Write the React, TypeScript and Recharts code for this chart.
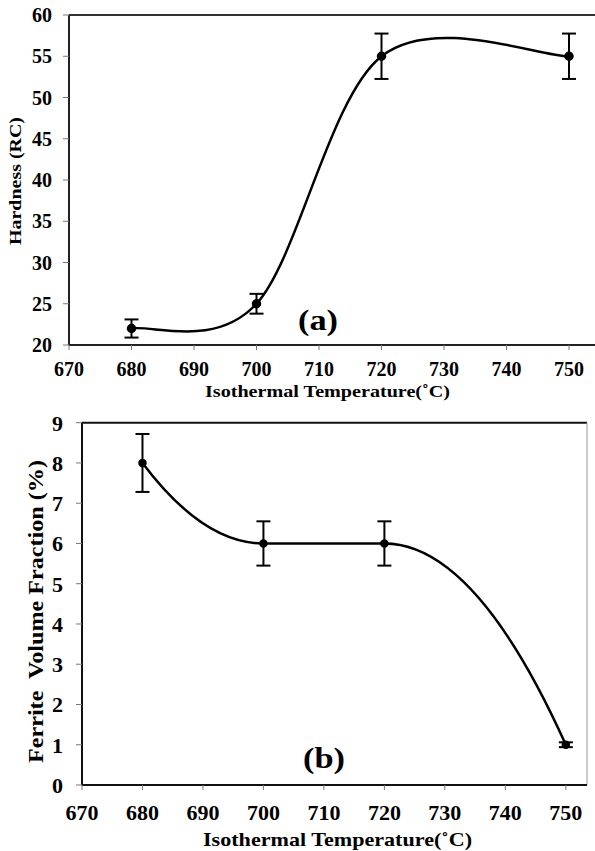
import { LineChart, Line, XAxis, YAxis, ErrorBar, ReferenceLine, Label } from 'recharts';

const TEMPS = [680, 700, 720, 750];
const HARDNESS = [22, 25, 55, 55];
const HARDNESS_ERR = [1.1, 1.2, 2.75, 2.75];
const FERRITE = [8, 6, 6, 1];
const FERRITE_ERR = [0.72, 0.55, 0.55, 0.06];
const TEMP_ERR = [1, 1, 1, 1];

const TEMP_TICKS = [670, 680, 690, 700, 710, 720, 730, 740, 750];
const HARDNESS_TICKS = [20, 25, 30, 35, 40, 45, 50, 55, 60];
const FERRITE_TICKS = [0, 1, 2, 3, 4, 5, 6, 7, 8, 9];

const hardnessData = TEMPS.map((t, i) => ({ temp: t, hardness: HARDNESS[i], err: HARDNESS_ERR[i] }));
const ferriteData = TEMPS.map((t, i) => ({
  temp: t,
  ferrite: FERRITE[i],
  err: FERRITE_ERR[i],
  tErr: TEMP_ERR[i],
}));

const FONT = '"Liberation Serif", "Times New Roman", serif';

// collects the points, then draws them with the given path builder
function makeCurve(draw: (ctx: any, pts: number[][]) => void) {
  return (context: any) => {
    let pts: number[][] = [];
    return {
      areaStart() {},
      areaEnd() {},
      lineStart() {
        pts = [];
      },
      point(x: number, y: number) {
        pts.push([+x, +y]);
      },
      lineEnd() {
        if (pts.length) draw(context, pts);
      },
    };
  };
}

// spreadsheet-style smoothed line: bezier segments with catmull-rom tangents
const smoothCurve = makeCurve((ctx, pts) => {
  const n = pts.length;
  ctx.moveTo(pts[0][0], pts[0][1]);
  for (let i = 0; i < n - 1; i++) {
    const p0 = pts[Math.max(i - 1, 0)];
    const p1 = pts[i];
    const p2 = pts[i + 1];
    const p3 = pts[Math.min(i + 2, n - 1)];
    ctx.bezierCurveTo(
      p1[0] + (p2[0] - p0[0]) / 6,
      p1[1] + (p2[1] - p0[1]) / 6,
      p2[0] - (p3[0] - p1[0]) / 6,
      p2[1] - (p3[1] - p1[1]) / 6,
      p2[0],
      p2[1]
    );
  }
});

// hermite curve that goes flat wherever the data levels off
const flatCurve = makeCurve((ctx, pts) => {
  const n = pts.length;
  const s: number[] = [];
  for (let i = 0; i < n - 1; i++) s.push((pts[i + 1][1] - pts[i][1]) / (pts[i + 1][0] - pts[i][0]));
  const m: number[] = new Array(n).fill(0);
  for (let i = 1; i < n - 1; i++) {
    m[i] = s[i - 1] * s[i] > 0 ? (s[i - 1] + s[i]) / 2 : 0;
  }
  if (n > 1) {
    m[0] = 2 * s[0] - m[1];
    m[n - 1] = 2 * s[n - 2] - m[n - 2];
  }
  ctx.moveTo(pts[0][0], pts[0][1]);
  for (let i = 0; i < n - 1; i++) {
    const h = (pts[i + 1][0] - pts[i][0]) / 3;
    ctx.bezierCurveTo(
      pts[i][0] + h,
      pts[i][1] + m[i] * h,
      pts[i + 1][0] - h,
      pts[i + 1][1] - m[i + 1] * h,
      pts[i + 1][0],
      pts[i + 1][1]
    );
  }
});

const titleStyle = { fontFamily: FONT, fontWeight: 700, fill: '#000' };
const tickStyle = (size: number) => ({ fill: '#000', fontSize: size, fontWeight: 700, style: { fontFamily: FONT } });

export default function App() {
  return (
    <div
      style={{ position: 'absolute', left: 0, top: 0, width: 595, height: 851, background: '#fff', fontFamily: FONT }}
    >
      <LineChart width={595} height={410} data={hardnessData} margin={{ top: 15, right: 0, bottom: 0, left: 0 }}>
        <XAxis
          type="number"
          dataKey="temp"
          domain={[670, 754.16]}
          ticks={TEMP_TICKS}
          allowDataOverflow
          height={65}
          axisLine={{ stroke: '#222', strokeWidth: 2 }}
          tickLine={{ stroke: '#777' }}
          tickSize={5}
          tickMargin={12}
          tick={tickStyle(20)}
        >
          <Label
            content={() => (
              <text x={327.5} y={397} textAnchor="middle" fontSize={17} textLength={245} lengthAdjust="spacingAndGlyphs" style={titleStyle}>
                Isothermal Temperature(˚C)
              </text>
            )}
          />
        </XAxis>
        <YAxis
          type="number"
          domain={[20, 60]}
          ticks={HARDNESS_TICKS}
          width={69}
          axisLine={{ stroke: '#222', strokeWidth: 2 }}
          tickLine={{ stroke: '#777' }}
          tickSize={6}
          tickMargin={11}
          tick={tickStyle(20)}
        >
          <Label
            content={() => (
              <text
                x={21}
                y={181}
                transform="rotate(-90, 21, 181)"
                textAnchor="middle"
                fontSize={17}
                textLength={128}
                lengthAdjust="spacingAndGlyphs"
                style={titleStyle}
              >
                Hardness (RC)
              </text>
            )}
          />
        </YAxis>
        <ReferenceLine y={60} stroke="#333" strokeWidth={2} />
        <Line
          type={smoothCurve as any}
          dataKey="hardness"
          stroke="#000"
          strokeWidth={2.5}
          dot={{ r: 3.5, fill: '#000', stroke: '#000' }}
          isAnimationActive={false}
        >
          <ErrorBar dataKey="err" width={7} stroke="#000" strokeWidth={2} />
        </Line>
      </LineChart>

      <LineChart width={595} height={441} data={ferriteData} margin={{ top: 12.7, right: 8, bottom: 0, left: 0 }}>
        <XAxis
          type="number"
          dataKey="temp"
          domain={[670, 753.5]}
          ticks={TEMP_TICKS}
          allowDataOverflow
          height={66}
          axisLine={{ stroke: '#111', strokeWidth: 2 }}
          tickLine={{ stroke: '#777' }}
          tickSize={5}
          tickMargin={14}
          tick={tickStyle(22)}
        >
          <Label
            content={() => (
              <text x={337.5} y={436} textAnchor="middle" fontSize={19} textLength={269} lengthAdjust="spacingAndGlyphs" style={titleStyle}>
                Isothermal Temperature(˚C)
              </text>
            )}
          />
        </XAxis>
        <YAxis
          type="number"
          domain={[0, 9]}
          ticks={FERRITE_TICKS}
          width={82}
          axisLine={{ stroke: '#111', strokeWidth: 2 }}
          tickLine={{ stroke: '#777' }}
          tickSize={6}
          tickMargin={13}
          tick={tickStyle(22)}
        >
          <Label
            content={() => (
              <text
                x={43}
                y={201.5}
                transform="rotate(-90, 43, 201.5)"
                textAnchor="middle"
                fontSize={20}
                textLength={303}
                lengthAdjust="spacingAndGlyphs"
                style={{ ...titleStyle, whiteSpace: 'pre' }}
              >
                Ferrite  Volume Fraction (%)
              </text>
            )}
          />
        </YAxis>
        <ReferenceLine y={9} stroke="#111" strokeWidth={2} />
        <ReferenceLine x={753.5} stroke="#999" strokeWidth={1} />
        <Line
          type={flatCurve as any}
          dataKey="ferrite"
          stroke="#000"
          strokeWidth={2.5}
          dot={{ r: 3, fill: '#000', stroke: '#000' }}
          isAnimationActive={false}
        >
          <ErrorBar dataKey="err" direction="y" width={7} stroke="#000" strokeWidth={2} />
          <ErrorBar dataKey="tErr" direction="x" width={7} stroke="#000" strokeWidth={1.5} />
        </Line>
      </LineChart>

      <svg width={595} height={851} style={{ position: 'absolute', left: 0, top: 0, pointerEvents: 'none' }}>
        <text x={298} y={330} fontSize={30} textLength={40} lengthAdjust="spacingAndGlyphs" style={titleStyle}>
          (a)
        </text>
        <text x={303} y={768} fontSize={30} textLength={42} lengthAdjust="spacingAndGlyphs" style={titleStyle}>
          (b)
        </text>
      </svg>
    </div>
  );
}
